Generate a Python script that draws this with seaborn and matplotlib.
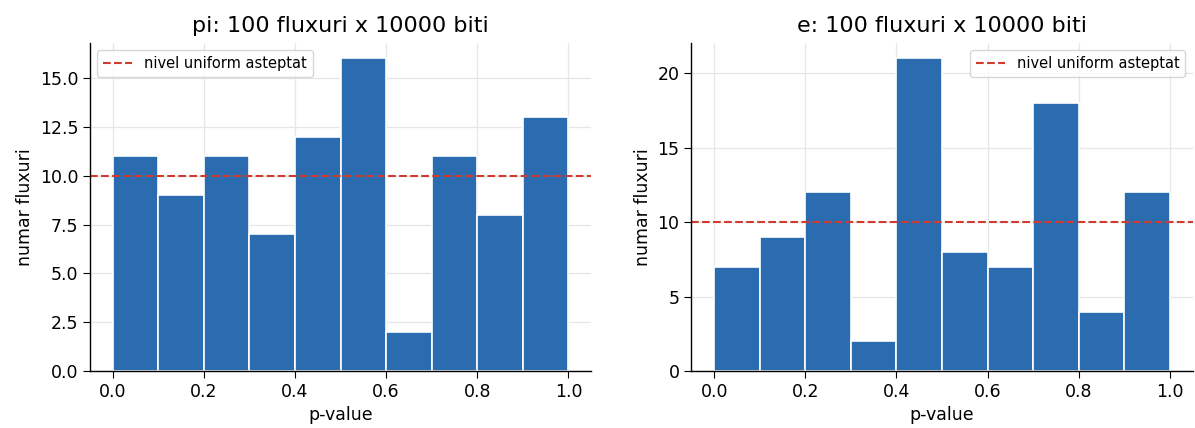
import numpy as np
import pandas as pd
import matplotlib
matplotlib.use("Agg")
import matplotlib.pyplot as plt
from matplotlib.ticker import MultipleLocator
import seaborn as sns

sns.set_style("whitegrid")

bin_edges = np.linspace(0, 1, 11)
bin_centers = (bin_edges[:-1] + bin_edges[1:]) / 2
pi_counts = [11, 9, 11, 7, 12, 16, 2, 11, 8, 13]
e_counts = [7, 9, 12, 2, 21, 8, 7, 18, 4, 12]
titles = ["pi: 100 fluxuri x 10000 biti", "e: 100 fluxuri x 10000 biti"]
legend_locs = ["upper left", "upper right"]
y_steps = [2.5, 5]
expected = 10

plt.rcParams["font.family"] = ["DejaVu Sans"]
plt.rcParams["text.color"] = "black"
plt.rcParams["axes.labelcolor"] = "black"
plt.rcParams["xtick.color"] = "black"
plt.rcParams["ytick.color"] = "black"

fig, axes = plt.subplots(1, 2, figsize=(11.95, 4.28), dpi=100)

for ax, counts, title, loc, step in zip(axes, [pi_counts, e_counts], titles, legend_locs, y_steps):
    df = pd.DataFrame({"p": bin_centers, "n": counts})
    sns.histplot(data=df, x="p", weights="n", binwidth=0.1, binrange=(0, 1), ax=ax,
                 color="#2b6cb0", alpha=1, edgecolor="white", linewidth=1.2)
    ax.axhline(expected, color="#d03a2f", linestyle="--", linewidth=1.5,
               label="nivel uniform asteptat")
    ax.set_title(title, fontsize=16, pad=8)
    ax.set_xlabel("p-value", fontsize=12.5)
    ax.set_ylabel("numar fluxuri", fontsize=12.5)
    ax.yaxis.set_major_locator(MultipleLocator(step))
    ax.tick_params(labelsize=12.5, length=5, left=True, bottom=True)
    ax.grid(color="#e6e6e6", linewidth=0.9)
    ax.set_axisbelow(True)
    for s in ["left", "bottom"]:
        ax.spines[s].set_color("black")
        ax.spines[s].set_linewidth(1)
    sns.despine(ax=ax)
    ax.legend(loc=loc, fontsize=10.5)

plt.subplots_adjust(left=0.0753, right=0.998, bottom=0.133, top=0.9, wspace=0.2)
plt.savefig("out.png")
